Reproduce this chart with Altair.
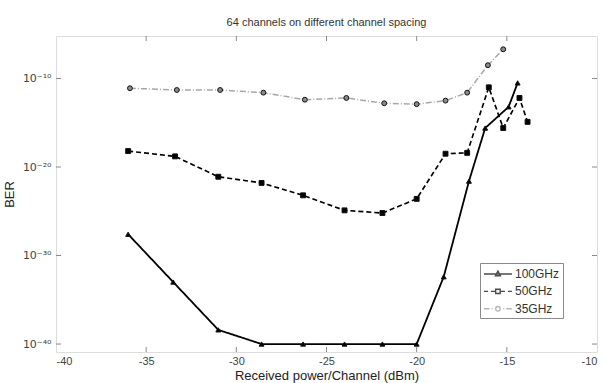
import altair as alt
import pandas as pd

# ---- data (y stored as log10(BER)) ----
series_names = ["100GHz", "50GHz", "35GHz"]

x_100 = [-36, -33.5, -31, -28.6, -26.3, -24, -21.9, -20, -18.5, -17.1, -16.2, -14.9, -14.4]
e_100 = [-27.6, -33.0, -38.4, -40, -40, -40, -40, -40, -32.4, -21.6, -15.6, -13.2, -10.5]

x_50 = [-36, -33.4, -31, -28.6, -26.3, -24, -21.9, -20, -18.4, -17.2, -16.0, -15.2, -14.3, -13.85]
e_50 = [-18.2, -18.8, -21.1, -21.8, -23.2, -24.9, -25.2, -23.6, -18.5, -18.4, -11.0, -15.6, -12.2, -14.9]

x_35 = [-35.9, -33.3, -30.9, -28.5, -26.2, -23.9, -21.8, -20, -18.4, -17.2, -16.05, -15.2]
e_35 = [-11.1, -11.3, -11.3, -11.6, -12.4, -12.2, -12.8, -12.9, -12.5, -11.6, -8.5, -6.7]

x_ticks = [-40, -35, -30, -25, -20, -15, -10]
y_tick_exps = [-40, -30, -20, -10]
inner_x_ticks = [-35, -30, -25, -20, -15]

rows = []
for name, xs, es in [("100GHz", x_100, e_100), ("50GHz", x_50, e_50), ("35GHz", x_35, e_35)]:
    for i, (xv, ev) in enumerate(zip(xs, es)):
        rows.append({"x": xv, "ber": 10.0 ** ev, "series": name, "order": i})
df = pd.DataFrame(rows)

W, H = 541, 316
xscale = alt.Scale(domain=[-40, -10], nice=False, zero=False)
yscale = alt.Scale(type="log", domain=[10.0 ** -40.9, 10.0 ** -5.2], nice=False)

label_expr = ("datum.value < 1e-35 ? '10\u207b\u2074\u2070' : datum.value < 1e-25 ? '10\u207b\u00b3\u2070' : "
              "datum.value < 1e-15 ? '10\u207b\u00b2\u2070' : '10\u207b\u00b9\u2070'")

X = alt.X("x:Q", scale=xscale,
          axis=alt.Axis(values=x_ticks, title="Received power/Channel (dBm)", ticks=False, domain=False,
                        grid=False, labelFontSize=11, labelColor="#444", labelPadding=3,
                        labelExpr="replace(datum.label, '\u2212', '-')",
                        titleFontSize=13, titleFontWeight="normal", titleColor="#222", titlePadding=3,
                        labelFont="Liberation Sans", titleFont="Liberation Sans"))
Y = alt.Y("ber:Q", scale=yscale,
          axis=alt.Axis(values=[10.0 ** e for e in y_tick_exps], labelExpr=label_expr, title="BER",
                        ticks=False, domain=False, grid=False, labelFontSize=11, labelColor="#444",
                        labelPadding=5, titleFontSize=13, titleFontWeight="normal", titleColor="#222",
                        titlePadding=6, labelFont="DejaVu Sans", titleFont="Liberation Sans"))

lines = alt.Chart(df).mark_line().encode(
    x=X, y=Y,
    color=alt.Color("series:N", scale=alt.Scale(domain=series_names, range=["#000000", "#000000", "#a8a8a8"]), legend=None),
    strokeDash=alt.StrokeDash("series:N", scale=alt.Scale(domain=series_names, range=[[1, 0], [5, 3], [6, 2, 1, 2]]), legend=None),
    strokeWidth=alt.StrokeWidth("series:N", scale=alt.Scale(domain=series_names, range=[1.8, 1.5, 1.0]), legend=None),
    order="order:Q",
)

points = alt.Chart(df).mark_point(filled=True, size=24, stroke="#111", strokeWidth=1, opacity=1).encode(
    x="x:Q", y="ber:Q",
    shape=alt.Shape("series:N", scale=alt.Scale(domain=series_names, range=["triangle-up", "square", "circle"]), legend=None),
    fill=alt.Fill("series:N", scale=alt.Scale(domain=series_names, range=["#000000", "#000000", "#8a8a8a"]), legend=None),
)

# legend-only layer (data filtered away; the legend is built from the scale domain)
p100 = "M-1,0H2.96M0.98,-0.42L1.33,0.25L0.63,0.25Z"
p50 = "M-1,0H-0.43M-0.01,0H0.56M1.4,0H1.97M2.39,0H2.96M0.66,-0.3H1.3V0.3H0.66Z"
p35 = "M-1,0H-0.2M0.08,0H0.22M1.74,0H1.88M2.16,0H2.96M1.3,0A0.32,0.32 0 1,1 0.66,0A0.32,0.32 0 1,1 1.3,0Z"
legend_layer = alt.Chart(df).transform_filter("datum.x > 1000").mark_point(filled=False, strokeWidth=1.4).encode(
    x="x:Q", y="ber:Q",
    shape=alt.Shape("series:N", scale=alt.Scale(domain=series_names, range=[p100, p50, p35]),
                    legend=alt.Legend(title=None, orient="none", legendX=424, legendY=227,
                                      symbolSize=200, symbolStrokeWidth=1.4, labelOffset=16,
                                      rowPadding=3.4, padding=3, strokeColor="#8a8a8a", fillColor="white",
                                      labelFontSize=12, labelColor="#333", labelFont="Liberation Sans",
                                      labelExpr="datum.label + '\u00a0\u00a0\u00a0\u00a0\u00a0'")),
    color=alt.Color("series:N", scale=alt.Scale(domain=series_names, range=["#000000", "#000000", "#9a9a9a"])),
)

# inward tick marks (MATLAB style)
tx = pd.DataFrame({"x": inner_x_ticks})
ty = pd.DataFrame({"ber": [10.0 ** e for e in y_tick_exps]})
tick_color = "#8a8a8a"
bot = alt.Chart(tx).mark_rule(color=tick_color, strokeWidth=1).encode(x="x:Q", y=alt.value(H), y2=alt.value(H - 5))
top = alt.Chart(tx).mark_rule(color=tick_color, strokeWidth=1).encode(x="x:Q", y=alt.value(0), y2=alt.value(5))
lft = alt.Chart(ty).mark_rule(color=tick_color, strokeWidth=1).encode(y="ber:Q", x=alt.value(0), x2=alt.value(5))
rgt = alt.Chart(ty).mark_rule(color=tick_color, strokeWidth=1).encode(y="ber:Q", x=alt.value(W), x2=alt.value(W - 5))

chart = alt.layer(bot, top, lft, rgt, lines, points, legend_layer).resolve_scale(
    shape="independent", color="independent"
).properties(
    width=W, height=H,
    title=alt.TitleParams("64 channels on different channel spacing", fontSize=11, fontWeight="normal",
                          color="#333", font="Liberation Sans", anchor="middle", offset=8),
    autosize=alt.AutoSizeParams(type="none"),
    padding={"left": 56, "top": 36, "right": 7, "bottom": 31},
).configure_view(stroke="#8a8a8a", strokeWidth=1).configure(background="white")

chart.save("out.html", embed_options={"renderer": "svg", "actions": False})
